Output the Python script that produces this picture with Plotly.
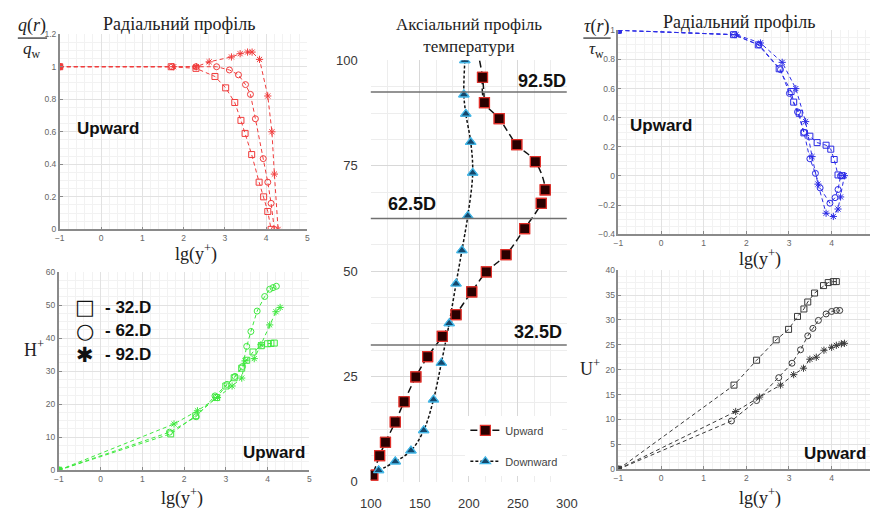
import plotly.graph_objects as go

W, H = 881, 518

# ---------------- data ----------------
# Top-left: q(r)/q_w  (red)
q_x32 = [-1, 1.70, 2.30, 2.76, 3.02, 3.24, 3.39, 3.49, 3.65, 3.83, 3.94, 4.04, 4.12]
q_y32 = [1.0, 1.0, 0.99, 0.94, 0.87, 0.78, 0.67, 0.59, 0.46, 0.29, 0.20, 0.11, 0.0]
q_x62 = [-1, 1.72, 2.30, 2.80, 3.11, 3.33, 3.50, 3.62, 3.74, 3.93, 4.04, 4.12, 4.20]
q_y62 = [1.0, 1.0, 1.0, 1.0, 0.98, 0.95, 0.89, 0.83, 0.68, 0.435, 0.29, 0.16, 0.0]
q_x92 = [-1, 1.76, 2.31, 2.62, 3.16, 3.37, 3.55, 3.66, 3.84, 4.04, 4.14, 4.20, 4.29]
q_y92 = [1.0, 1.0, 1.0, 1.03, 1.06, 1.08, 1.09, 1.09, 1.045, 0.82, 0.60, 0.34, 0.0]

# Bottom-left: H+  (green)
h_x32 = [-1, 1.68, 2.28, 2.78, 3.00, 3.20, 3.38, 3.50, 3.65, 3.85, 4.00, 4.08, 4.16]
h_y32 = [0, 11.0, 16.5, 22.0, 25.5, 28.0, 30.9, 33.3, 35.8, 37.7, 38.3, 38.4, 38.5]
h_x62 = [-1, 1.65, 2.29, 2.74, 3.03, 3.22, 3.40, 3.50, 3.60, 3.75, 3.93, 4.05, 4.13, 4.21]
h_y62 = [0, 11.5, 16.2, 22.5, 26.0, 28.4, 31.4, 37.5, 42.0, 48.2, 52.6, 54.8, 55.3, 55.7]
h_x92 = [-1, 1.76, 2.32, 2.80, 3.15, 3.38, 3.46, 3.68, 3.84, 4.05, 4.20, 4.30]
h_y92 = [0, 14.0, 18.0, 22.0, 25.5, 27.9, 33.1, 33.8, 38.0, 44.0, 48.0, 49.3]

# Centre: axial temperature profile (first Upward point is the unmarked line end)
up_t = [211, 214, 216, 231, 249, 268, 278, 274, 257, 238, 218, 203, 187, 173, 158, 146, 134, 125, 115, 109, 102]
up_z = [100, 96, 90, 86.2, 80, 76, 69.3, 66.1, 60.1, 53.9, 49.8, 45.1, 39.7, 34.5, 29.7, 24.9, 19.0, 14.2, 9.4, 6.2, 1.6]
down_t = [196, 195, 197, 202, 204, 199, 193, 187, 180, 172, 164, 154, 141, 125, 108]
down_z = [100, 91.9, 87.3, 80.6, 73.3, 63.1, 54.9, 47.0, 37.6, 28.2, 19.5, 12.2, 7.4, 4.8, 2.7]
sections = [92.5, 62.5, 32.5]
section_labels = ["92.5D", "62.5D", "32.5D"]

# Top-right: tau(r)/tau_w  (blue)
t_x32 = [-1, 1.70, 2.28, 2.77, 3.05, 3.11, 3.24, 3.35, 3.49, 3.66, 3.87, 3.98, 4.06, 4.15, 4.25]
t_y32 = [1.0, 0.97, 0.90, 0.736, 0.58, 0.507, 0.43, 0.296, 0.273, 0.229, 0.211, 0.184, 0.113, 0.007, 0.002]
t_x62 = [-1, 1.72, 2.30, 2.80, 3.01, 3.20, 3.35, 3.49, 3.62, 3.73, 3.96, 4.08, 4.15, 4.21]
t_y62 = [1.0, 0.97, 0.90, 0.73, 0.567, 0.44, 0.30, 0.118, 0.018, -0.082, -0.187, -0.149, -0.093, 0.0]
t_x92 = [-1, 1.76, 2.33, 2.84, 3.16, 3.39, 3.54, 3.68, 3.87, 4.04, 4.15, 4.21, 4.30]
t_y92 = [1.0, 0.97, 0.913, 0.78, 0.60, 0.373, 0.133, -0.056, -0.256, -0.278, -0.227, -0.144, 0.002]

# Bottom-right: U+  (dark)
u_x32 = [-1, 1.71, 2.24, 2.70, 2.99, 3.20, 3.35, 3.44, 3.60, 3.81, 3.92, 4.04, 4.11]
u_y32 = [0, 16.9, 21.9, 26.0, 28.1, 30.7, 32.2, 33.6, 35.4, 36.9, 37.5, 37.7, 37.7]
u_x62 = [-1, 1.65, 2.24, 2.76, 3.07, 3.27, 3.44, 3.56, 3.69, 3.87, 4.00, 4.11, 4.19]
u_y62 = [0, 9.7, 13.8, 18.4, 21.3, 24.0, 26.8, 28.3, 29.9, 31.2, 31.7, 31.9, 31.9]
u_x92 = [-1, 1.75, 2.31, 2.80, 3.11, 3.34, 3.49, 3.64, 3.82, 4.00, 4.11, 4.23, 4.30]
u_y92 = [0, 11.6, 14.5, 16.9, 19.0, 20.3, 22.1, 22.5, 23.9, 24.5, 24.9, 25.2, 25.3]

# ---------------- helpers ----------------
def px(x):
    return x / W

def py(y):
    return 1 - y / H

SERIF = "Liberation Serif, Times New Roman, serif"
SANS = "Liberation Sans, Arial, sans-serif"

fig = go.Figure()

symbols = ["square-open", "circle-open", "asterisk-open"]

def add_panel(ax, series, color):
    xa = "x" if ax == 1 else f"x{ax}"
    ya = "y" if ax == 1 else f"y{ax}"
    for (xs, ys), sym in zip(series, symbols):
        fig.add_trace(go.Scatter(
            x=xs, y=ys, xaxis=xa, yaxis=ya, mode="lines+markers",
            line=dict(color=color, width=1, dash="4px,3px"),
            marker=dict(symbol=sym, size=6, color=color, line=dict(color=color, width=1)),
            showlegend=False, hoverinfo="skip"))
    # filled start point
    xs0, ys0 = series[0]
    fig.add_trace(go.Scatter(
        x=xs0[:1], y=ys0[:1], xaxis=xa, yaxis=ya, mode="markers",
        marker=dict(symbol="circle", size=7, color=color),
        showlegend=False, hoverinfo="skip"))

add_panel(1, [(q_x32, q_y32), (q_x62, q_y62), (q_x92, q_y92)], "#f03c3c")
add_panel(2, [(h_x32, h_y32), (h_x62, h_y62), (h_x92, h_y92)], "#3ee83e")
add_panel(4, [(t_x32, t_y32), (t_x62, t_y62), (t_x92, t_y92)], "#2b2be6")
add_panel(5, [(u_x32, u_y32), (u_x62, u_y62), (u_x92, u_y92)], "#3a3a3a")

# Centre panel
UP_FILL, UP_EDGE = "#2a0000", "#e0302a"
DN_FILL, DN_EDGE = "#14476b", "#45b8e8"
# unmarked top end of the Upward curve
fig.add_trace(go.Scatter(
    x=up_t[:3], y=up_z[:3], xaxis="x3", yaxis="y3", mode="lines",
    line=dict(color="#111111", width=1.5, dash="7px,4px", shape="spline"),
    showlegend=False, hoverinfo="skip"))
fig.add_trace(go.Scatter(
    x=up_t[1:], y=up_z[1:], xaxis="x3", yaxis="y3", mode="lines+markers", name="Upward",
    line=dict(color="#111111", width=1.5, dash="7px,4px", shape="spline"),
    marker=dict(symbol="square", size=10, color=UP_FILL, opacity=1,
                line=dict(color=UP_EDGE, width=1.2)),
    legendgroup="a", hoverinfo="skip"))
fig.add_trace(go.Scatter(
    x=down_t, y=down_z, xaxis="x3", yaxis="y3", mode="lines+markers", name="Downward",
    line=dict(color="#111111", width=1.5, dash="3px,2px", shape="spline"),
    marker=dict(symbol="triangle-up", size=9, color=DN_FILL, opacity=1,
                line=dict(color=DN_EDGE, width=1.2)),
    legendgroup="b", hoverinfo="skip"))
# markers redrawn on top of all lines
fig.add_trace(go.Scatter(
    x=up_t[1:], y=up_z[1:], xaxis="x3", yaxis="y3", mode="markers",
    marker=dict(symbol="square", size=10, color=UP_FILL, opacity=1,
                line=dict(color=UP_EDGE, width=1.2)),
    showlegend=False, hoverinfo="skip"))
fig.add_trace(go.Scatter(
    x=down_t, y=down_z, xaxis="x3", yaxis="y3", mode="markers",
    marker=dict(symbol="triangle-up", size=9, color=DN_FILL, opacity=1,
                line=dict(color=DN_EDGE, width=1.2)),
    showlegend=False, hoverinfo="skip"))

# ---------------- axes ----------------
def side_axes(xdom, ydom, xr, yr, ydtick, yminor, xanchor, yanchor):
    common = dict(showline=True, linecolor="#8a8a8a", linewidth=1.5, mirror=False,
                  ticks="inside", ticklen=3, tickcolor="#8a8a8a",
                  gridcolor="#e2e2e2", gridwidth=1, zeroline=False,
                  tickfont=dict(family=SANS, size=8.5, color="#666666"))
    xa = dict(common, domain=xdom, range=xr, dtick=1, tick0=-1, anchor=yanchor,
              minor=dict(dtick=0.2, showgrid=True, gridcolor="#f2f2f2", ticks=""))
    ya = dict(common, domain=ydom, range=yr, dtick=ydtick, tick0=0, anchor=xanchor,
              minor=dict(dtick=yminor, showgrid=True, gridcolor="#f2f2f2", ticks=""))
    return xa, ya

xa1, ya1 = side_axes([px(50), px(304)], [py(229), py(28)], [-1, 5], [0, 1.2], 0.2, 0.05, "x", "y")
xa2, ya2 = side_axes([px(49), px(306)], [py(477), py(273)], [-1, 5], [0, 60], 10, 2.5, "x2", "y2")
xa4, ya4 = side_axes([px(623), 1.0], [py(234), py(24)], [-1, 4.9], [-0.4, 1.0], 0.2, 0.05, "x4", "y4")
xa5, ya5 = side_axes([px(623), 1.0], [py(476), py(271)], [-1, 4.9], [0, 40], 5, 1.25, "x5", "y5")

xa3 = dict(domain=[px(369), px(570)], range=[100, 300], dtick=50, tick0=100, anchor="y3",
           showline=False, zeroline=False, gridcolor="#d8d8d8", ticklabelstandoff=12,
           minor=dict(dtick=50 / 3, showgrid=True, gridcolor="#ededed"),
           tickfont=dict(family=SANS, size=13, color="#383838"))
ya3 = dict(domain=[py(489), py(55)], range=[0, 100], dtick=25, tick0=0, anchor="x3",
           showline=False, zeroline=False, gridcolor="#d8d8d8", ticklabelstandoff=12,
           minor=dict(dtick=6.25, showgrid=True, gridcolor="#ededed"),
           tickfont=dict(family=SANS, size=13, color="#383838"))

fig.update_layout(
    width=W, height=H, autosize=False,
    margin=dict(l=0, r=0, t=0, b=0),
    paper_bgcolor="white", plot_bgcolor="white",
    xaxis=xa1, yaxis=ya1, xaxis2=xa2, yaxis2=ya2, xaxis3=xa3, yaxis3=ya3,
    xaxis4=xa4, yaxis4=ya4, xaxis5=xa5, yaxis5=ya5,
    legend=dict(x=px(466), y=py(421), xanchor="left", yanchor="top",
                bgcolor="white", borderwidth=0, tracegroupgap=12,
                font=dict(family=SANS, size=11, color="#444444")),
)

# section lines in centre panel
for s in sections:
    fig.add_shape(type="line", xref="x3 domain", yref="y3", x0=0, x1=1, y0=s, y1=s,
                  line=dict(color="#707070", width=1.5))

# ---------------- annotations ----------------
def ann(x, y, text, size, family=SANS, color="#111111", xanchor="center", yanchor="middle"):
    fig.add_annotation(x=px(x), y=py(y), xref="paper", yref="paper", text=text,
                       showarrow=False, xanchor=xanchor, yanchor=yanchor,
                       font=dict(family=family, size=size, color=color))

# titles
ann(172, 18, "Радіальний профіль", 18, SERIF, "#222222")
ann(747, 15, "Радіальний профіль", 18, SERIF, "#222222")
ann(470, 29, "Аксіальний профіль<br>температури", 17, SERIF, "#222222")

# x-axis titles
for (x, y) in [(190, 253), (175, 505), (768, 258), (768, 505)]:
    ann(x, y, "lg(y<sup>+</sup>)", 18, SERIF, "#222222")

# y-axis titles
ann(24, 352, "H<sup>+</sup>", 18, SERIF, "#222222")
ann(594, 371, "U<sup>+</sup>", 18, SERIF, "#222222")

# fraction labels
ann(22, 19, "<i>q</i>(<i>r</i>)", 18, SERIF, "#222222")
fig.add_shape(type="line", xref="paper", yref="paper", x0=px(7), x1=px(37), y0=py(32), y1=py(32),
              line=dict(color="#222222", width=1.2))
ann(22, 44, "<i>q</i><sub>w</sub>", 17, SERIF, "#222222")

ann(601, 20, "<i>τ</i>(<i>r</i>)", 18, SERIF, "#222222")
fig.add_shape(type="line", xref="paper", yref="paper", x0=px(587), x1=px(615), y0=py(32), y1=py(32),
              line=dict(color="#222222", width=1.2))
ann(601, 44, "<i>τ</i><sub>w</sub>", 17, SERIF, "#222222")

# "Upward" labels
ann(99, 125, "<b>Upward</b>", 17)
ann(667, 122, "<b>Upward</b>", 17)
ann(270, 459, "<b>Upward</b>", 17)
ann(845, 460, "<b>Upward</b>", 17)

# section labels
ann(545, 76, "<b>92.5D</b>", 18)
ann(411, 203, "<b>62.5D</b>", 18)
ann(540, 335, "<b>32.5D</b>", 18)

# marker legend in H+ panel
leg_syms = ["□", "○", "✱"]
leg_txt = ["- 32.D", "- 62.D", "- 92.D"]
for i, (s, t) in enumerate(zip(leg_syms, leg_txt)):
    yy = 309 + i * 24.5
    ann(76, yy, s, 21, "DejaVu Sans", "#111111")
    ann(94, yy, "<b>" + t + "</b>", 17, SANS, "#111111", xanchor="left")

fig.write_html("out.html")
